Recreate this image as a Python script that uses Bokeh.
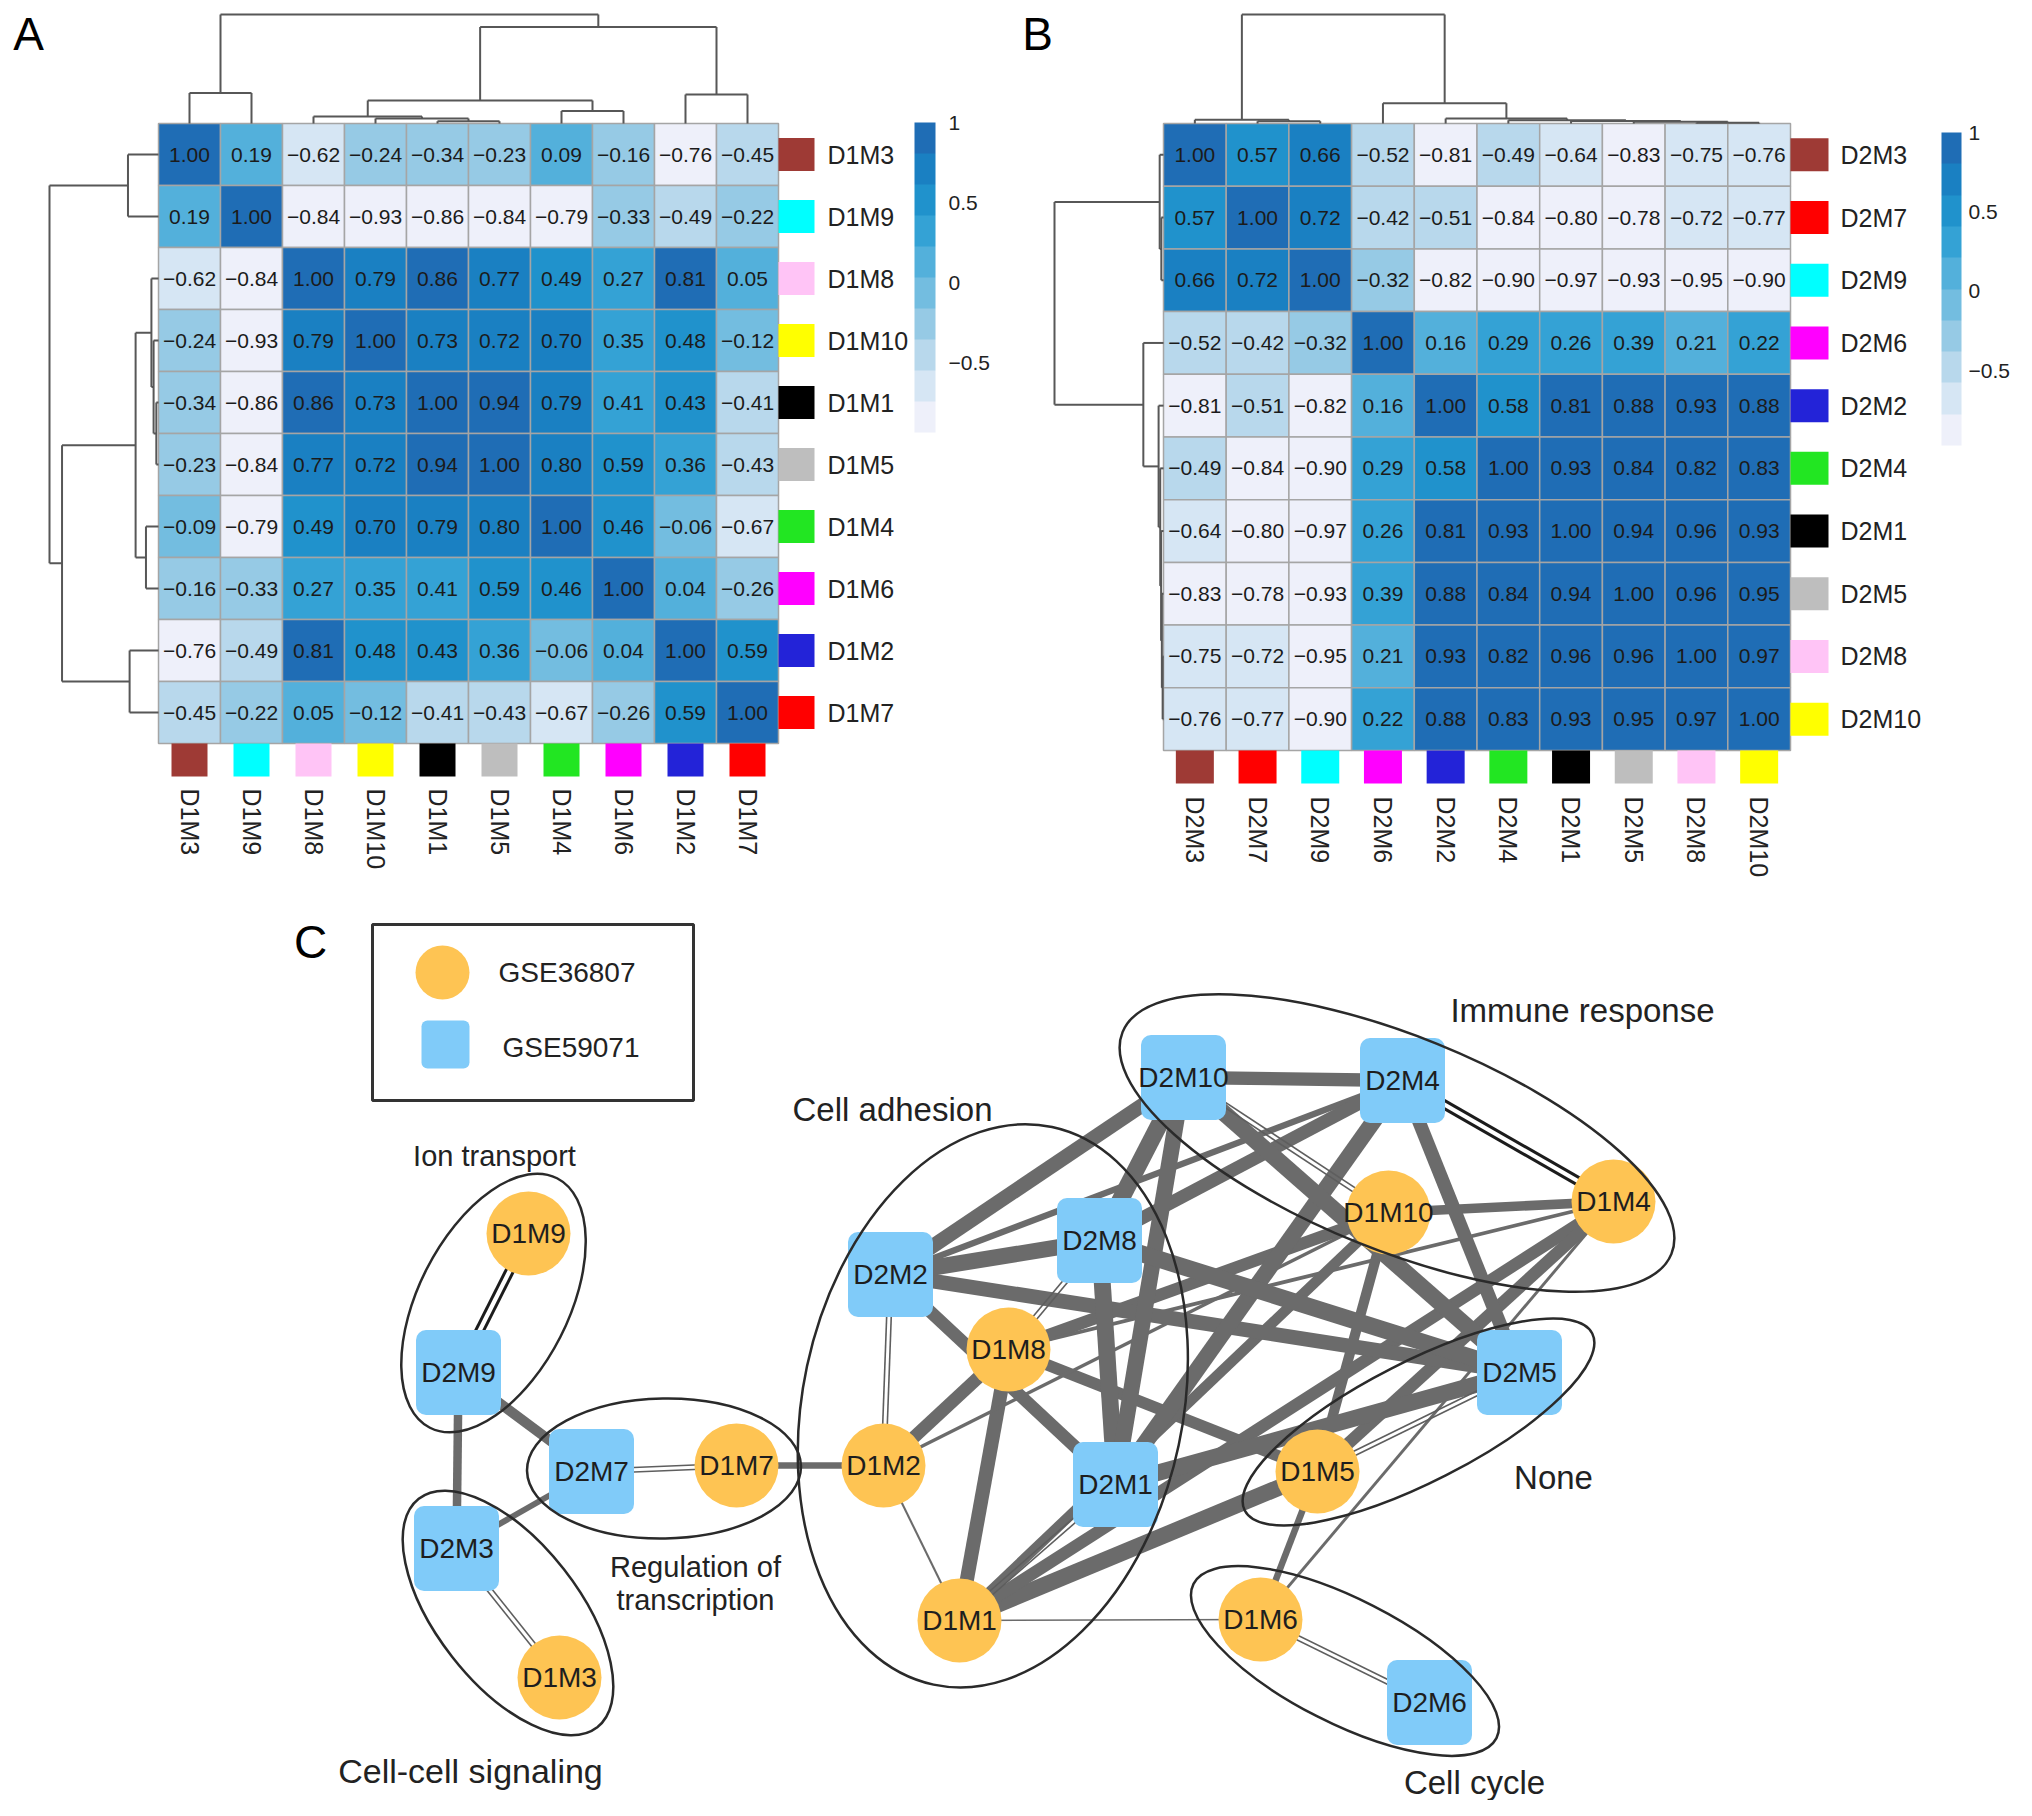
import math
from bokeh.plotting import figure
from bokeh.models import (Range1d, ColumnDataSource, LinearColorMapper, ColorBar,
                          FixedTicker, CustomJSTickFormatter)
from bokeh.layouts import column, row
from bokeh.embed import file_html
from bokeh.resources import INLINE
from bokeh.core.properties import value

FONT = "Liberation Sans"

# ---------------- data: heatmap A ----------------
A_ORDER = ["D1M3", "D1M9", "D1M8", "D1M10", "D1M1", "D1M5", "D1M4", "D1M6", "D1M2", "D1M7"]
A_VALUES = [
    [1.00, 0.19, -0.62, -0.24, -0.34, -0.23, 0.09, -0.16, -0.76, -0.45],
    [0.19, 1.00, -0.84, -0.93, -0.86, -0.84, -0.79, -0.33, -0.49, -0.22],
    [-0.62, -0.84, 1.00, 0.79, 0.86, 0.77, 0.49, 0.27, 0.81, 0.05],
    [-0.24, -0.93, 0.79, 1.00, 0.73, 0.72, 0.70, 0.35, 0.48, -0.12],
    [-0.34, -0.86, 0.86, 0.73, 1.00, 0.94, 0.79, 0.41, 0.43, -0.41],
    [-0.23, -0.84, 0.77, 0.72, 0.94, 1.00, 0.80, 0.59, 0.36, -0.43],
    [-0.09, -0.79, 0.49, 0.70, 0.79, 0.80, 1.00, 0.46, -0.06, -0.67],
    [-0.16, -0.33, 0.27, 0.35, 0.41, 0.59, 0.46, 1.00, 0.04, -0.26],
    [-0.76, -0.49, 0.81, 0.48, 0.43, 0.36, -0.06, 0.04, 1.00, 0.59],
    [-0.45, -0.22, 0.05, -0.12, -0.41, -0.43, -0.67, -0.26, 0.59, 1.00],
]
# hierarchical merges (left, right, height relative to root, new id)
A_MERGES = [
    ("D1M1", "D1M5", 0.02, "a1"),
    ("D1M10", "a1", 0.045, "a2"),
    ("D1M8", "a2", 0.065, "a3"),
    ("D1M4", "D1M6", 0.115, "a4"),
    ("a3", "a4", 0.21, "a5"),
    ("D1M2", "D1M7", 0.265, "a6"),
    ("a5", "a6", 0.885, "a7"),
    ("D1M3", "D1M9", 0.28, "a8"),
    ("a8", "a7", 1.0, "a9"),
]

# ---------------- data: heatmap B ----------------
B_ORDER = ["D2M3", "D2M7", "D2M9", "D2M6", "D2M2", "D2M4", "D2M1", "D2M5", "D2M8", "D2M10"]
B_VALUES = [
    [1.00, 0.57, 0.66, -0.52, -0.81, -0.49, -0.64, -0.83, -0.75, -0.76],
    [0.57, 1.00, 0.72, -0.42, -0.51, -0.84, -0.80, -0.78, -0.72, -0.77],
    [0.66, 0.72, 1.00, -0.32, -0.82, -0.90, -0.97, -0.93, -0.95, -0.90],
    [-0.52, -0.42, -0.32, 1.00, 0.16, 0.29, 0.26, 0.39, 0.21, 0.22],
    [-0.81, -0.51, -0.82, 0.16, 1.00, 0.58, 0.81, 0.88, 0.93, 0.88],
    [-0.49, -0.84, -0.90, 0.29, 0.58, 1.00, 0.93, 0.84, 0.82, 0.83],
    [-0.64, -0.80, -0.97, 0.26, 0.81, 0.93, 1.00, 0.94, 0.96, 0.93],
    [-0.83, -0.78, -0.93, 0.39, 0.88, 0.84, 0.94, 1.00, 0.96, 0.95],
    [-0.75, -0.72, -0.95, 0.21, 0.93, 0.82, 0.96, 0.96, 1.00, 0.97],
    [-0.76, -0.77, -0.90, 0.22, 0.88, 0.83, 0.93, 0.95, 0.97, 1.00],
]
B_MERGES = [
    ("D2M7", "D2M9", 0.02, "b1"),
    ("D2M3", "b1", 0.035, "b2"),
    ("D2M8", "D2M10", 0.008, "b3"),
    ("D2M5", "b3", 0.015, "b4"),
    ("D2M1", "b4", 0.022, "b5"),
    ("D2M4", "b5", 0.03, "b6"),
    ("D2M2", "b6", 0.045, "b7"),
    ("D2M6", "b7", 0.185, "b8"),
    ("b2", "b8", 1.0, "b9"),
]

MODULE_COLORS = {
    "M1": "#000000", "M2": "#2323D8", "M3": "#9E3A35", "M4": "#22E622",
    "M5": "#BEBEBE", "M6": "#FF00FF", "M7": "#FF0000", "M8": "#FFC4F6",
    "M9": "#00FFFF", "M10": "#FFFF00",
}
PALETTE = ["#EEF0FA", "#D6E6F4", "#B8D8EC", "#96CAE5", "#73BDE0",
           "#53B0DB", "#34A2D5", "#2092CC", "#1A80C2", "#1F6DB5"]
COLORBAR_TICKS = [-0.5, 0, 0.5, 1]

# ---------------- data: network ----------------
NODE_NAMES = ["D1M9", "D2M9", "D2M7", "D1M7", "D2M3", "D1M3", "D2M2", "D1M2", "D1M1", "D1M8",
              "D2M8", "D2M1", "D2M10", "D2M4", "D1M10", "D1M4", "D2M5", "D1M5", "D1M6", "D2M6"]
NODE_X = [528, 458, 591, 736, 456, 559, 890, 883, 959, 1008,
          1099, 1115, 1183, 1402, 1388, 1613, 1519, 1317, 1260, 1429]
NODE_Y = [583, 444, 345, 351, 268, 139, 542, 351, 196, 467,
          576, 332, 739, 736, 604, 615, 444, 345, 197, 114]
EDGE_THRESHOLD = 0.4
PAIR_D1 = ["D1M1", "D1M2", "D1M3", "D1M4", "D1M5", "D1M6", "D1M7", "D1M8", "D1M9", "D1M10"]
PAIR_D2 = ["D2M1", "D2M2", "D2M3", "D2M4", "D2M5", "D2M6", "D2M7", "D2M8", "D2M9", "D2M10"]
PAIR_LEVEL = ["weak", "weak", "weak", "strong", "weak", "weak", "weak", "weak", "strong", "weak"]

GROUP_NAMES = ["Ion transport", "Cell-cell signaling", "Regulation of transcription",
               "Cell adhesion", "Immune response", "None", "Cell cycle"]
GROUP_MEMBERS = [["D1M9", "D2M9"], ["D2M3", "D1M3"], ["D2M7", "D1M7"],
                 ["D2M2", "D2M8", "D1M8", "D1M2", "D2M1", "D1M1"],
                 ["D2M10", "D2M4", "D1M10", "D1M4"], ["D2M5", "D1M5"], ["D1M6", "D2M6"]]
LEGEND_LABELS = ["GSE36807", "GSE59071"]

# ---------------- layout constants ----------------
ELL_A = [140, 145, 137, 285, 296, 195, 170]
ELL_B = [75, 71, 70, 190, 107, 60, 62]
ELL_ANGLE = [63, -52, 1, 78, -22, 27, -27]
GROUP_LABEL_LINES = [["Ion transport"], ["Cell-cell signaling"], ["Regulation of", "transcription"],
                     ["Cell adhesion"], ["Immune response"], ["None"], ["Cell cycle"]]
GROUP_LABEL_POS = [(494, 661), (470, 46), (695, 250), (892, 707), (1582, 806), (1553, 339), (1474, 34)]
GROUP_LABEL_SIZE = [29, 34, 29, 33, 33, 33, 33]

TOP_H = 905
BOT_H = 895


def fmt(v):
    s = f"{v:.2f}"
    return s.replace("-", "\u2212")


def make_heatmap(order, vals, merges, fig_w, cell, hm_left, hm_top, sq_w, sq_h,
                 gap_r, gap_b, cb_loc, cb_w, cb_h, cb_standoff, letter, letter_pos):
    fig_h = TOP_H
    n = len(order)
    x0 = -hm_left / cell
    x1 = x0 + fig_w / cell
    y1 = n + hm_top / cell
    y0 = y1 - fig_h / cell
    p = figure(width=fig_w, height=fig_h, x_range=Range1d(x0, x1), y_range=Range1d(y0, y1),
               output_backend="svg", toolbar_location=None, x_axis_location=None,
               y_axis_location=None, min_border=0, outline_line_color=None)
    p.grid.visible = False

    vmin = min(min(r) for r in vals)
    vmax = max(max(r) for r in vals)
    mapper = LinearColorMapper(palette=PALETTE, low=vmin, high=vmax)

    xs, ys, vs, ts = [], [], [], []
    for i in range(n):
        for j in range(n):
            xs.append(j + 0.5)
            ys.append(n - i - 0.5)
            vs.append(vals[i][j])
            ts.append(fmt(vals[i][j]))
    src = ColumnDataSource(dict(x=xs, y=ys, v=vs, t=ts))
    p.rect("x", "y", 1, 1, source=src, fill_color={"field": "v", "transform": mapper},
           line_color="#A5A5A5", line_width=1.5)
    p.text("x", "y", text="t", source=src, text_align="center", text_baseline="middle",
           text_font_size="21px", text_font=value(FONT), text_color="#1b1b1b")

    # dendrograms
    root_units = 109.0 / cell
    pos = {nm: j + 0.5 for j, nm in enumerate(order)}
    hgt = {nm: 0.0 for nm in order}
    tx0, ty0, tx1, ty1 = [], [], [], []
    for a, b, h, nm in merges:
        xa, xb, ha, hb = pos[a], pos[b], hgt[a], hgt[b]
        for (sx0, sh0, sx1, sh1) in [(xa, ha, xa, h), (xb, hb, xb, h), (xa, h, xb, h)]:
            tx0.append(sx0); ty0.append(sh0); tx1.append(sx1); ty1.append(sh1)
        pos[nm] = (xa + xb) / 2
        hgt[nm] = h
    p.segment(x0=tx0, y0=[n + h * root_units for h in ty0], x1=tx1,
              y1=[n + h * root_units for h in ty1], line_color="#575757", line_width=2)
    p.segment(x0=[-h * root_units for h in ty0], y0=[n - x for x in tx0],
              x1=[-h * root_units for h in ty1], y1=[n - x for x in tx1],
              line_color="#575757", line_width=2)

    colors = [MODULE_COLORS[nm[2:]] for nm in order]
    p.rect(x=[n + sq_w / cell / 2] * n, y=[n - i - 0.5 for i in range(n)],
           width=sq_w / cell, height=sq_h / cell, fill_color=colors, line_color=None)
    p.rect(x=[j + 0.5 for j in range(n)], y=[-sq_h / cell / 2] * n,
           width=sq_w / cell, height=sq_h / cell, fill_color=colors, line_color=None)
    p.text(x=[n + gap_r / cell] * n, y=[n - i - 0.5 for i in range(n)], text=order,
           text_align="left", text_baseline="middle", text_font_size="25px",
           text_font=value(FONT), text_color="#222222")
    p.text(x=[j + 0.5 for j in range(n)], y=[-gap_b / cell] * n, text=order,
           angle=-math.pi / 2, text_align="left", text_baseline="middle",
           text_font_size="25px", text_font=value(FONT), text_color="#222222")

    cb = ColorBar(color_mapper=mapper, location=cb_loc, width=cb_w, height=cb_h, padding=0,
                  ticker=FixedTicker(ticks=COLORBAR_TICKS),
                  formatter=CustomJSTickFormatter(
                      code="return tick < 0 ? '\\u2212' + Math.abs(tick) : String(tick);"),
                  major_tick_line_color=None, minor_tick_line_color=None,
                  bar_line_color=None, border_line_color=None, background_fill_alpha=0,
                  major_label_text_font_size="21px", major_label_text_font=FONT,
                  major_label_text_color="#222222", label_standoff=cb_standoff)
    p.add_layout(cb)

    p.text(x=[x0 + letter_pos[0] / cell], y=[y1 - letter_pos[1] / cell], text=[letter],
           text_align="center", text_baseline="middle", text_font_size="46px",
           text_font=value(FONT), text_color="#000000")
    return p


figA = make_heatmap(A_ORDER, A_VALUES, A_MERGES, 1008, 62.0, 158, 123, 36, 33, 49, 45,
                    (914, TOP_H - 432), 21, 310, 13, "A", (28, 33))
figB = make_heatmap(B_ORDER, B_VALUES, B_MERGES, 1008, 62.7, 155, 123, 38, 33, 50, 46,
                    (933, TOP_H - 445), 20, 313, 7, "B", (29, 33))

# ---------------- network ----------------
pc = figure(width=2016, height=BOT_H, x_range=Range1d(0, 2016),
            y_range=Range1d(1816 - TOP_H - BOT_H, 1816 - TOP_H),
            output_backend="svg", toolbar_location=None, x_axis_location=None,
            y_axis_location=None, min_border=0, outline_line_color=None)
pc.grid.visible = False

npos = {nm: (x, y) for nm, x, y in zip(NODE_NAMES, NODE_X, NODE_Y)}

ex0, ey0, ex1, ey1, ew = [], [], [], [], []
for order, vals in [(A_ORDER, A_VALUES), (B_ORDER, B_VALUES)]:
    n = len(order)
    for i in range(n):
        for j in range(i + 1, n):
            r = vals[i][j]
            if r >= EDGE_THRESHOLD:
                (xa, ya), (xb, yb) = npos[order[i]], npos[order[j]]
                ex0.append(xa); ey0.append(ya); ex1.append(xb); ey1.append(yb)
                ew.append(1.8 + (r - 0.42) * 28)
pc.segment(x0=ex0, y0=ey0, x1=ex1, y1=ey1, line_width=ew, line_color="#6B6B6B")

LEVEL_STYLE = {"strong": ("#1C1C1C", 3.0, 3.6), "weak": ("#5E5E5E", 1.6, 2.3)}
for d1, d2, lev in zip(PAIR_D1, PAIR_D2, PAIR_LEVEL):
    (xa, ya), (xb, yb) = npos[d1], npos[d2]
    L = math.hypot(xb - xa, yb - ya)
    nx, ny = -(yb - ya) / L, (xb - xa) / L
    col, lw, off = LEVEL_STYLE[lev]
    pc.segment(x0=[xa + nx * off, xa - nx * off], y0=[ya + ny * off, ya - ny * off],
               x1=[xb + nx * off, xb - nx * off], y1=[yb + ny * off, yb - ny * off],
               line_color=col, line_width=lw)

cx = [npos[nm][0] for nm in NODE_NAMES if nm.startswith("D1")]
cy = [npos[nm][1] for nm in NODE_NAMES if nm.startswith("D1")]
sx = [npos[nm][0] for nm in NODE_NAMES if nm.startswith("D2")]
sy = [npos[nm][1] for nm in NODE_NAMES if nm.startswith("D2")]
CIRCLE_COLOR = "#FEC453"
SQUARE_COLOR = "#80CBF9"
pc.circle(x=cx, y=cy, radius=42, fill_color=CIRCLE_COLOR, line_color=None)
try:
    pc.quad(left=[x - 42.5 for x in sx], right=[x + 42.5 for x in sx],
            bottom=[y - 42.5 for y in sy], top=[y + 42.5 for y in sy],
            fill_color=SQUARE_COLOR, line_color=None, border_radius=10)
except Exception:
    pc.quad(left=[x - 42.5 for x in sx], right=[x + 42.5 for x in sx],
            bottom=[y - 42.5 for y in sy], top=[y + 42.5 for y in sy],
            fill_color=SQUARE_COLOR, line_color=None)
pc.text(x=NODE_X, y=NODE_Y, text=NODE_NAMES, text_align="center", text_baseline="middle",
        text_font_size="28px", text_font=value(FONT), text_color="#1E1E1E")

gx, gy = [], []
for mem in GROUP_MEMBERS:
    gx.append(sum(npos[m][0] for m in mem) / len(mem))
    gy.append(sum(npos[m][1] for m in mem) / len(mem))
pc.ellipse(x=gx, y=gy, width=[2 * a for a in ELL_A], height=[2 * b for b in ELL_B],
           angle=[math.radians(t) for t in ELL_ANGLE], fill_color=None,
           line_color="#2A2A2A", line_width=2.5)

for lines, (lx, ly), fs in zip(GROUP_LABEL_LINES, GROUP_LABEL_POS, GROUP_LABEL_SIZE):
    lh = fs * 1.17
    pc.text(x=[lx] * len(lines), y=[ly - k * lh for k in range(len(lines))], text=lines,
            text_align="center", text_baseline="middle", text_font_size=f"{fs}px",
            text_font=value(FONT), text_color="#222222")

pc.rect(x=[532.5], y=[804], width=321, height=176, fill_color=None,
        line_color="#333333", line_width=3)
pc.circle(x=[442], y=[844], radius=27, fill_color=CIRCLE_COLOR, line_color=None)
try:
    pc.quad(left=[421], right=[469], bottom=[748], top=[796], fill_color=SQUARE_COLOR,
            line_color=None, border_radius=6)
except Exception:
    pc.quad(left=[421], right=[469], bottom=[748], top=[796], fill_color=SQUARE_COLOR,
            line_color=None)
pc.text(x=[498, 502], y=[844, 769], text=LEGEND_LABELS, text_align="left",
        text_baseline="middle", text_font_size="28px", text_font=value(FONT),
        text_color="#222222")
pc.text(x=[310], y=[875], text=["C"], text_align="center", text_baseline="middle",
        text_font_size="46px", text_font=value(FONT), text_color="#000000")

layout = column(row(figA, figB), pc)
open("out.html", "w").write(file_html(layout, INLINE))
